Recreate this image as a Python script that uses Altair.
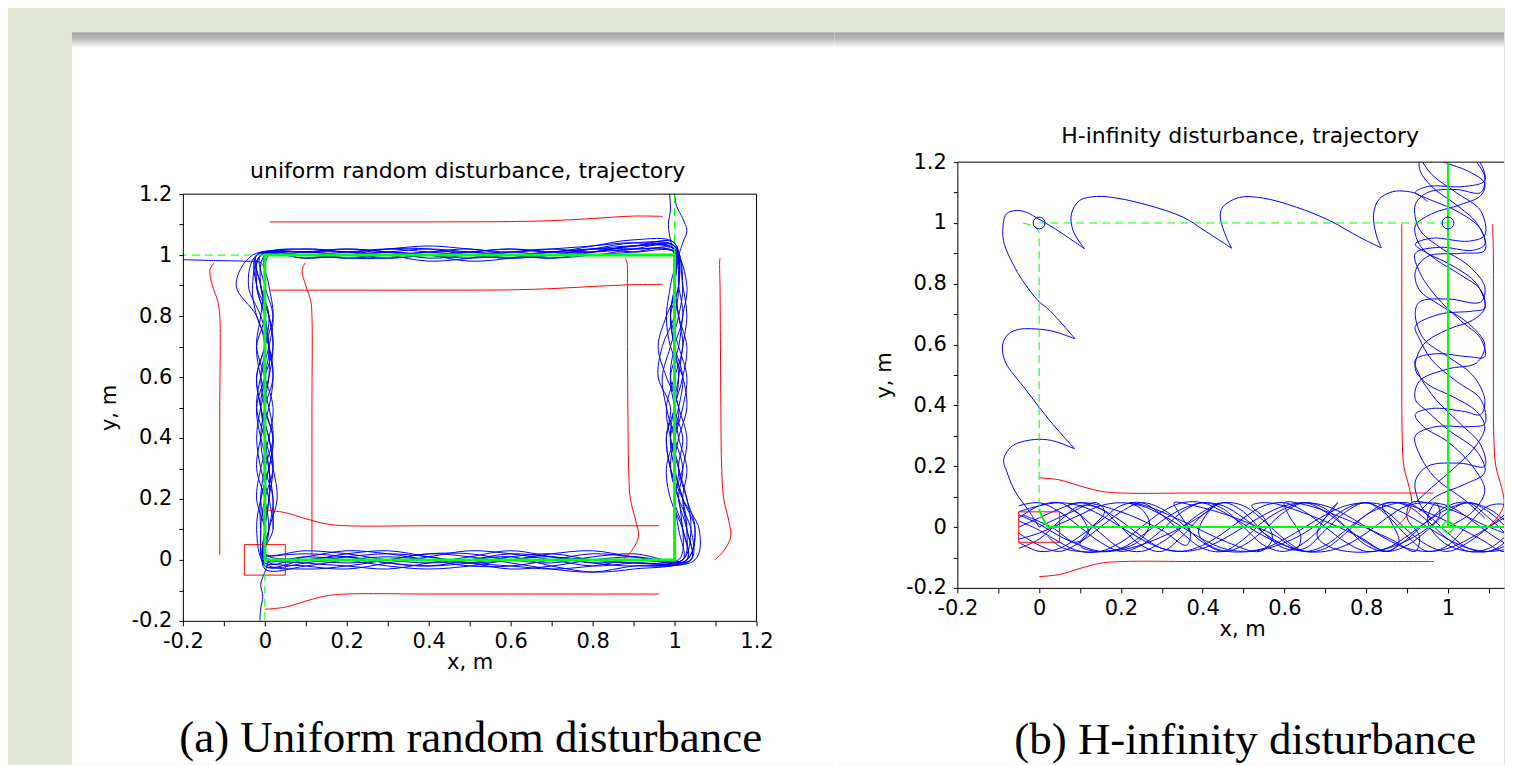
import altair as alt
import pandas as pd

# ---------------- text ----------------
TITLE_A = "uniform random disturbance, trajectory"
TITLE_B = "H-infinity disturbance, trajectory"
CAPTION_A = "(a) Uniform random disturbance"
CAPTION_B = "(b) H-infinity disturbance"
X_TITLE = "x, m"
Y_TITLE = "y, m"

# ---------------- axes ----------------
TICKS = [-0.2, -0.1, 0.0, 0.1, 0.2, 0.3, 0.4, 0.5, 0.6, 0.7, 0.8, 0.9, 1.0, 1.1, 1.2]
TICKS_BX = [-0.2, -0.1, 0.0, 0.1, 0.2, 0.3, 0.4, 0.5, 0.6, 0.7, 0.8, 0.9, 1.0, 1.1]
DOMAIN_A = [-0.2, 1.2]
DOMAIN_BX = [-0.2, 1.137]
DOMAIN_BY = [-0.2, 1.2]

# ---------------- panel (a): uniform random disturbance ----------------
LAP_S = [0.0, 0.1, 0.2, 0.3, 0.4, 0.5, 0.6, 0.7, 0.8, 0.9]
LAP_BOTTOM = [
    [0.01, 0.02, 0.01, -0.01, -0.02, -0.01, 0.01, 0.02, 0.00, -0.01],
    [-0.02, -0.01, 0.01, 0.02, 0.01, -0.01, -0.03, -0.02, 0.00, 0.01],
    [0.00, -0.02, -0.03, -0.01, 0.01, 0.03, 0.02, 0.00, -0.02, -0.01],
    [0.02, 0.00, -0.01, 0.00, 0.02, 0.01, -0.01, -0.03, -0.04, -0.02],
    [-0.01, 0.01, 0.03, 0.02, 0.00, -0.02, -0.02, 0.00, 0.02, 0.01],
    [0.01, -0.01, -0.02, -0.03, -0.01, 0.01, 0.03, 0.01, -0.01, 0.00],
    [-0.03, -0.02, 0.00, 0.01, 0.00, -0.01, 0.00, 0.02, 0.03, 0.01],
    [0.00, 0.01, 0.00, -0.02, -0.03, -0.02, 0.00, 0.01, -0.01, -0.02],
    [0.02, 0.03, 0.02, 0.00, -0.01, 0.00, 0.01, -0.02, -0.04, -0.03],
    [-0.01, -0.03, -0.02, 0.00, 0.02, 0.02, 0.00, -0.01, 0.01, 0.02],
    [0.01, 0.00, 0.02, 0.03, 0.01, -0.01, -0.02, -0.03, -0.02, 0.00],
    [-0.02, 0.00, 0.01, -0.01, -0.02, 0.00, 0.02, 0.01, 0.00, -0.01],
]
LAP_RIGHT = [
    [0.03, 0.05, 0.02, 0.00, -0.01, 0.01, 0.02, 0.00, -0.01, 0.01],
    [0.04, 0.03, 0.01, 0.02, 0.00, -0.02, -0.03, -0.01, 0.01, 0.02],
    [0.02, 0.04, 0.03, 0.01, -0.01, 0.00, 0.02, 0.03, 0.01, 0.00],
    [0.05, 0.06, 0.02, -0.01, -0.02, -0.01, -0.04, -0.03, 0.00, 0.01],
    [0.01, 0.02, 0.00, 0.02, 0.03, 0.01, -0.01, 0.00, 0.02, 0.01],
    [0.03, 0.02, -0.01, -0.02, 0.00, 0.02, 0.03, 0.01, -0.01, 0.00],
    [0.02, 0.03, 0.02, 0.00, 0.01, 0.03, 0.02, -0.01, -0.02, -0.01],
    [0.04, 0.04, 0.01, -0.01, 0.00, 0.01, -0.02, -0.04, -0.02, 0.01],
    [0.03, 0.05, 0.03, 0.01, 0.02, 0.00, 0.01, 0.02, 0.03, 0.02],
    [0.02, 0.01, 0.00, 0.01, -0.01, -0.02, 0.00, 0.02, 0.01, 0.00],
    [0.04, 0.03, 0.02, 0.03, 0.01, 0.00, -0.01, 0.01, 0.02, 0.03],
    [0.03, 0.02, 0.01, -0.01, -0.02, 0.00, 0.01, 0.00, -0.01, 0.00],
]
LAP_TOP = [
    [0.02, 0.03, 0.02, 0.01, 0.00, 0.01, 0.02, 0.01, 0.00, 0.01],
    [0.03, 0.04, 0.02, 0.00, -0.01, 0.00, 0.01, 0.02, 0.01, 0.00],
    [0.01, 0.02, 0.01, 0.02, 0.01, -0.01, -0.02, 0.00, 0.01, 0.02],
    [0.04, 0.05, 0.03, 0.01, 0.02, 0.01, 0.00, -0.01, 0.00, 0.01],
    [0.02, 0.01, 0.00, -0.01, 0.00, 0.02, 0.01, 0.00, -0.01, 0.00],
    [0.03, 0.03, 0.01, 0.00, 0.01, 0.00, -0.01, 0.01, 0.02, 0.01],
    [0.01, 0.02, 0.02, 0.01, -0.01, -0.02, 0.00, 0.01, 0.00, -0.01],
    [0.02, 0.04, 0.03, 0.02, 0.01, 0.02, 0.03, 0.02, 0.01, 0.02],
    [0.03, 0.02, 0.00, 0.01, 0.02, 0.01, 0.00, -0.01, -0.01, 0.00],
    [0.02, 0.03, 0.01, -0.01, 0.00, 0.01, 0.01, 0.00, 0.01, 0.01],
    [0.01, 0.01, 0.02, 0.00, -0.01, 0.00, 0.02, 0.02, 0.00, -0.01],
    [0.04, 0.03, 0.01, 0.01, 0.00, -0.01, 0.00, 0.01, 0.02, 0.01],
]
LAP_LEFT = [
    [-0.01, -0.02, 0.00, 0.01, 0.02, 0.01, -0.01, -0.02, 0.00, 0.01],
    [-0.02, -0.04, -0.01, 0.01, 0.00, -0.01, 0.01, 0.02, 0.01, 0.00],
    [0.00, -0.01, 0.01, 0.02, 0.01, -0.01, -0.02, -0.01, 0.01, 0.02],
    [-0.03, -0.07, -0.02, 0.00, -0.01, 0.00, 0.02, 0.01, -0.01, -0.02],
    [-0.01, 0.00, 0.02, 0.01, -0.01, -0.02, 0.00, 0.02, 0.03, 0.01],
    [-0.02, -0.01, 0.00, -0.02, -0.01, 0.01, 0.02, 0.00, -0.01, 0.00],
    [0.00, 0.01, 0.02, 0.00, -0.02, -0.01, 0.01, 0.02, 0.00, -0.01],
    [-0.01, -0.03, -0.02, 0.01, 0.02, 0.00, -0.01, 0.00, 0.02, 0.01],
    [-0.02, -0.02, 0.01, 0.02, 0.00, -0.02, -0.01, 0.01, 0.01, 0.00],
    [0.01, 0.00, -0.01, -0.02, 0.00, 0.02, 0.01, -0.01, -0.02, 0.00],
    [-0.01, -0.02, 0.00, 0.01, 0.01, 0.00, 0.02, 0.01, -0.01, -0.01],
    [-0.02, -0.01, 0.01, 0.00, -0.02, -0.01, 0.00, 0.01, 0.02, 0.02],
]
TAIL_A_X = [-0.2, -0.12, -0.05, -0.01, 0.0]
TAIL_A_Y = [0.985, 0.982, 0.98, 0.975, 0.95]
TAIL_B_X = [0.01, 0.0, -0.01, -0.005, -0.01, -0.012]
TAIL_B_Y = [0.0, -0.04, -0.08, -0.12, -0.16, -0.2]
TAIL_C_X = [1.0, 0.99, 0.985, 0.99, 0.988]
TAIL_C_Y = [1.0, 1.05, 1.1, 1.15, 1.2]
TAIL_D_X = [1.01, 1.02, 1.03, 1.02, 1.005, 1.0]
TAIL_D_Y = [1.0, 1.04, 1.08, 1.12, 1.16, 1.2]

REF_SQ_X = [0.0, 1.0, 1.0, 0.0, 0.0]
REF_SQ_Y = [0.0, 0.0, 1.0, 1.0, 0.0]
REF_DASH_A = [([0.0, 0.0], [0.0, -0.2]), ([0.0, -0.2], [1.0, 1.0]), ([1.0, 1.0], [1.0, 1.2])]

RED_BOT_X = [0.0, 0.05, 0.1, 0.15, 0.2, 0.4, 0.6, 0.8, 0.963]
RED_BOT_IN_Y = [0.164, 0.155, 0.135, 0.118, 0.112, 0.112, 0.112, 0.112, 0.112]
RED_BOT_OUT_Y = [-0.162, -0.155, -0.135, -0.118, -0.112, -0.112, -0.112, -0.112, -0.112]
RED_RIGHT_Y = [0.0, 0.03, 0.076, 0.13, 0.2, 0.3, 0.5, 0.7, 0.9, 0.975, 0.99]
RED_RIGHT_IN_X = [0.874, 0.895, 0.912, 0.905, 0.892, 0.888, 0.886, 0.885, 0.885, 0.884, 0.880]
RED_RIGHT_OUT_X = [1.098, 1.12, 1.137, 1.132, 1.12, 1.115, 1.113, 1.112, 1.111, 1.11, 1.111]
RED_TOP_X = [0.012, 0.2, 0.4, 0.6, 0.7, 0.8, 0.9, 0.971]
RED_TOP_OUT_Y = [1.109, 1.109, 1.109, 1.11, 1.113, 1.12, 1.128, 1.127]
RED_TOP_IN_Y = [0.885, 0.885, 0.885, 0.886, 0.89, 0.897, 0.903, 0.904]
RED_LEFT_Y = [0.975, 0.95, 0.9, 0.85, 0.8, 0.5, 0.2, 0.016]
RED_LEFT_OUT_X = [-0.124, -0.134, -0.128, -0.115, -0.11, -0.11, -0.11, -0.11]
RED_LEFT_IN_X = [0.099, 0.091, 0.1, 0.112, 0.115, 0.115, 0.115, 0.115]
BOX = [-0.05, 0.05]

# ---------------- panel (b): H-infinity disturbance ----------------
BIG_SEGMENTS = [
    ([0.0, -0.023, -0.06, -0.080, -0.087, -0.075, -0.056, -0.011, 0.03, 0.06, 0.087],
     [0.0, 0.049, 0.12, 0.186, 0.219, 0.255, 0.274, 0.288, 0.285, 0.272, 0.257]),
    ([0.087, 0.026, -0.031, -0.084, -0.089, -0.075, -0.050, -0.019, 0.03, 0.088],
     [0.257, 0.350, 0.449, 0.547, 0.602, 0.635, 0.650, 0.652, 0.645, 0.619]),
    ([0.088, 0.026, -0.003, -0.040, -0.064, -0.085, -0.089, -0.080, -0.056, -0.031, 0.0, 0.04, 0.111],
     [0.619, 0.712, 0.745, 0.810, 0.865, 0.93, 0.975, 1.030, 1.041, 1.035, 1.012, 0.98, 0.915]),
    ([0.111, 0.083, 0.079, 0.099, 0.140, 0.189, 0.270, 0.352, 0.41, 0.471],
     [0.915, 0.975, 1.03, 1.074, 1.087, 1.082, 1.057, 1.019, 0.97, 0.917]),
    ([0.471, 0.458, 0.443, 0.449, 0.490, 0.547, 0.629, 0.710, 0.784, 0.837],
     [0.917, 0.953, 1.019, 1.052, 1.084, 1.082, 1.052, 1.008, 0.953, 0.918]),
    ([0.837, 0.824, 0.818, 0.832, 0.865, 0.898, 0.925, 0.95],
     [0.918, 0.964, 1.030, 1.079, 1.103, 1.104, 1.095, 1.07]),
]
BAND_X = [-0.05, 0.0, 0.05, 0.1, 0.15, 0.2, 0.25, 0.3, 0.35, 0.4, 0.45, 0.5, 0.55, 0.6,
          0.65, 0.7, 0.75, 0.8, 0.85, 0.9, 0.95, 1.0, 1.05, 1.1, 1.15, 1.2, 1.25]
BAND_Y = [
    [0.0, 0.03, 0.06, 0.08, 0.06, 0.02, -0.03, -0.07, -0.08, -0.06, -0.02, 0.03, 0.07, 0.08,
     0.05, 0.0, -0.05, -0.08, -0.07, -0.03, 0.02, 0.06, 0.08, 0.06, 0.01, -0.04, -0.07],
    [-0.02, -0.06, -0.08, -0.05, 0.0, 0.05, 0.08, 0.06, 0.01, -0.05, -0.08, -0.06, -0.01, 0.05,
     0.08, 0.06, 0.0, -0.06, -0.08, -0.04, 0.02, 0.07, 0.08, 0.03, -0.03, -0.07, -0.08],
    [0.05, 0.07, 0.08, 0.07, 0.04, 0.0, -0.04, -0.07, -0.08, -0.07, -0.04, 0.0, 0.04, 0.07,
     0.08, 0.07, 0.04, 0.0, -0.04, -0.07, -0.08, -0.07, -0.04, 0.0, 0.04, 0.07, 0.08],
    [-0.07, -0.04, 0.02, 0.07, 0.06, 0.0, -0.06, -0.08, -0.03, 0.04, 0.08, 0.05, -0.02, -0.07,
     -0.07, -0.01, 0.05, 0.08, 0.04, -0.03, -0.08, -0.06, 0.01, 0.07, 0.07, 0.01, -0.05],
    [0.02, -0.01, -0.05, -0.08, -0.08, -0.05, 0.0, 0.05, 0.08, 0.08, 0.05, 0.01, -0.03, -0.06,
     -0.08, -0.08, -0.06, -0.02, 0.03, 0.07, 0.08, 0.07, 0.03, -0.02, -0.06, -0.08, -0.07],
    [0.07, 0.08, 0.05, 0.0, -0.05, -0.08, -0.06, -0.01, 0.05, 0.08, 0.06, 0.0, -0.06, -0.08,
     -0.05, 0.01, 0.06, 0.08, 0.05, -0.01, -0.06, -0.08, -0.05, 0.0, 0.05, 0.08, 0.06],
    [0.04, 0.01, -0.03, -0.06, -0.08, -0.07, -0.03, 0.02, 0.06, 0.08, 0.07, 0.03, -0.02, -0.06,
     -0.08, -0.06, -0.01, 0.04, 0.08, 0.07, 0.02, -0.04, -0.08, -0.07, -0.02, 0.04, 0.08],
    [-0.05, -0.08, -0.07, -0.03, 0.02, 0.07, 0.08, 0.04, -0.02, -0.07, -0.08, -0.04, 0.02, 0.06,
     0.08, 0.05, 0.0, -0.05, -0.08, -0.06, -0.01, 0.05, 0.08, 0.05, -0.01, -0.06, -0.08],
    [0.03, 0.07, 0.08, 0.04, -0.02, -0.07, -0.08, -0.05, 0.0, 0.05, 0.08, 0.07, 0.02, -0.04,
     -0.08, -0.07, -0.02, 0.04, 0.07, 0.08, 0.04, -0.02, -0.07, -0.08, -0.04, 0.02, 0.07],
    [-0.04, -0.02, 0.01, 0.04, 0.07, 0.08, 0.07, 0.04, 0.0, -0.04, -0.07, -0.08, -0.07, -0.04,
     0.0, 0.04, 0.07, 0.08, 0.07, 0.04, 0.0, -0.04, -0.07, -0.08, -0.07, -0.04, 0.0],
]
LOOP_STRANDS = [
    ([0.0, 0.08, 0.14, 0.16, 0.13, 0.10, 0.14, 0.22, 0.32, 0.40, 0.44, 0.42, 0.39, 0.43, 0.52,
      0.62, 0.70, 0.73, 0.71, 0.68, 0.72, 0.82, 0.92, 0.98, 0.97, 0.95, 1.0, 1.1, 1.2],
     [0.0, 0.05, 0.08, 0.05, 0.0, -0.06, -0.08, -0.07, -0.02, 0.04, 0.08, 0.06, -0.02, -0.07, -0.08,
      -0.04, 0.03, 0.08, 0.05, -0.03, -0.07, -0.08, -0.03, 0.04, 0.08, 0.02, -0.06, -0.08, -0.02]),
    ([0.02, 0.06, 0.16, 0.24, 0.27, 0.25, 0.22, 0.26, 0.35, 0.46, 0.54, 0.57, 0.55, 0.52, 0.56,
      0.66, 0.78, 0.85, 0.88, 0.86, 0.84, 0.88, 0.98, 1.08, 1.14, 1.16, 1.14, 1.2],
     [-0.03, -0.07, -0.08, -0.05, 0.01, 0.06, 0.08, 0.07, 0.02, -0.05, -0.08, -0.04, 0.03, 0.07, 0.08,
      0.04, -0.03, -0.08, -0.05, 0.02, 0.07, 0.08, 0.03, -0.04, -0.08, -0.02, 0.05, 0.07]),
    ([-0.04, 0.03, 0.09, 0.12, 0.10, 0.07, 0.11, 0.2, 0.3, 0.36, 0.37, 0.34, 0.33, 0.38, 0.48,
      0.58, 0.63, 0.64, 0.61, 0.60, 0.66, 0.76, 0.86, 0.92, 0.93, 0.90, 0.91, 1.0, 1.1, 1.2],
     [0.04, 0.0, -0.05, -0.02, 0.04, 0.07, 0.08, 0.05, -0.01, -0.06, -0.02, 0.05, 0.08, 0.07, 0.03,
      -0.03, -0.07, -0.03, 0.04, 0.08, 0.07, 0.02, -0.04, -0.08, -0.03, 0.03, 0.08, 0.06, 0.0, -0.05]),
]
RIGHT_STRANDS = [
    ([1.0, 1.06, 1.09, 1.06, 1.0, 0.94, 0.92, 0.96, 1.04, 1.08, 1.09, 1.06, 1.0, 0.94, 0.92,
      0.93, 1.0, 1.08, 1.09, 1.05, 0.98, 0.93, 0.92, 0.95, 1.02, 1.08, 1.09, 1.06, 1.04],
     [0.0, 0.05, 0.12, 0.2, 0.28, 0.33, 0.37, 0.39, 0.38, 0.37, 0.42, 0.5, 0.56, 0.62, 0.70,
      0.74, 0.75, 0.74, 0.79, 0.86, 0.92, 0.98, 1.06, 1.10, 1.11, 1.10, 1.15, 1.22, 1.26]),
    ([0.96, 0.93, 0.92, 0.95, 1.03, 1.09, 1.08, 1.03, 0.97, 0.93, 0.92, 0.97, 1.05, 1.09, 1.08,
      1.03, 0.97, 0.93, 0.92, 0.98, 1.06, 1.09, 1.07, 1.02, 0.96, 0.93, 0.94],
     [0.02, 0.08, 0.15, 0.2, 0.21, 0.2, 0.27, 0.34, 0.42, 0.5, 0.55, 0.57, 0.56, 0.56, 0.62,
      0.68, 0.76, 0.84, 0.9, 0.92, 0.91, 0.93, 1.0, 1.06, 1.12, 1.18, 1.26]),
    ([1.09, 1.04, 0.97, 0.93, 0.92, 0.97, 1.05, 1.09, 1.08, 1.02, 0.96, 0.93, 0.92, 0.98, 1.06,
      1.09, 1.07, 1.01, 0.95, 0.92, 0.96, 1.05, 1.09, 1.08, 1.02, 0.96, 0.93, 0.92],
     [0.03, 0.09, 0.16, 0.24, 0.3, 0.33, 0.33, 0.34, 0.42, 0.48, 0.55, 0.62, 0.66, 0.70, 0.71,
      0.72, 0.8, 0.86, 0.9, 0.93, 0.95, 0.94, 0.96, 1.04, 1.10, 1.16, 1.22, 1.26]),
    ([0.93, 0.97, 1.04, 1.09, 1.07, 1.0, 0.95, 0.92, 0.93, 1.0, 1.07, 1.09, 1.05, 0.98, 0.93,
      0.92, 0.95, 1.03, 1.09, 1.08, 1.02, 0.95, 0.92, 0.95, 1.04, 1.09, 1.07, 1.04],
     [0.05, 0.1, 0.14, 0.18, 0.25, 0.32, 0.38, 0.42, 0.48, 0.52, 0.54, 0.6, 0.67, 0.73, 0.78,
      0.84, 0.89, 0.9, 0.91, 0.98, 1.04, 1.08, 1.10, 1.12, 1.12, 1.14, 1.22, 1.26]),
    ([0.92, 0.96, 1.02, 1.07, 1.09, 1.07, 1.01, 0.95, 0.92, 0.94, 1.0, 1.06, 1.09, 1.08, 1.03,
      0.97, 0.93, 0.92, 0.96, 1.03, 1.08, 1.09, 1.05, 0.99, 0.94, 0.92],
     [0.08, 0.13, 0.2, 0.27, 0.33, 0.38, 0.43, 0.47, 0.52, 0.6, 0.65, 0.68, 0.72, 0.78, 0.83,
      0.88, 0.93, 0.99, 1.03, 1.06, 1.09, 1.13, 1.17, 1.2, 1.23, 1.26]),
]
B_RED_BOT_X = [0.0, 0.05, 0.1, 0.15, 0.2, 0.4, 0.6, 0.8, 0.965]
B_RED_BOT_IN_Y = [0.162, 0.155, 0.135, 0.118, 0.112, 0.112, 0.112, 0.112, 0.112]
B_RED_BOT_OUT_Y = [-0.163, -0.156, -0.136, -0.119, -0.1135, -0.1135, -0.1135, -0.1135, -0.1135]
B_RED_RIGHT_Y = [0.0, 0.03, 0.076, 0.13, 0.2, 0.3, 0.5, 0.7, 0.9, 0.997]
B_RED_RIGHT_IN_X = [0.873, 0.895, 0.911, 0.905, 0.892, 0.888, 0.887, 0.887, 0.887, 0.887]
B_RED_RIGHT_OUT_X = [1.097, 1.12, 1.137, 1.131, 1.117, 1.112, 1.111, 1.111, 1.111, 1.109]
B_GREEN_SOLID = [([0.02, 1.2], [0.0, 0.0]), ([1.0, 1.0], [0.0, 1.2]),
                 ([0.0, 0.008, 0.02], [0.06, 0.03, 0.0])]
B_GREEN_DASH = [([1.0, 0.0], [1.0, 1.0]), ([-0.04, -0.01, 0.0, 0.0], [1.0, 0.99, 0.97, 0.06])]
B_BLUE_RINGS_X = [0.0, 1.0]
B_BLUE_RINGS_Y = [1.0, 1.0]
B_GREEN_RING_X = [1.0]
B_GREEN_RING_Y = [0.0]

# ---------------- colours ----------------
BLUE = "#0000ff"
RED = "#ff0000"
GREEN = "#00ff00"
PAGE_BG = "#dfe4d6"
FONT = "DejaVu Sans"
SERIF = "Liberation Serif"
LABEL_EXPR = "(round(datum.value*10) % 2 == 0) ? toString(round(datum.value*10)/10) : ''"
GAP = 2  # the two panels' page backgrounds overlap by this many pixels


def paths_df(paths):
    rows = []
    for pid, (xs, ys) in enumerate(paths):
        for i, (x, y) in enumerate(zip(xs, ys)):
            rows.append({"x": x, "y": y, "pid": pid, "i": i})
    return pd.DataFrame(rows)


def lap_path():
    xs, ys = [], []
    for k in range(len(LAP_BOTTOM)):
        for s, o in zip(LAP_S, LAP_BOTTOM[k]):
            xs.append(s); ys.append(o)
        for s, o in zip(LAP_S, LAP_RIGHT[k]):
            xs.append(1.0 + o); ys.append(s)
        for s, o in zip(LAP_S, LAP_TOP[k]):
            xs.append(1.0 - s); ys.append(1.0 + o)
        for s, o in zip(LAP_S, LAP_LEFT[k]):
            xs.append(o); ys.append(1.0 - s)
    return xs, ys


def axes(xdom, xticks, ydom, title_x, yrange=None):
    xa = alt.Axis(values=xticks, labelExpr=LABEL_EXPR, title=X_TITLE, grid=False, zindex=1,
                  tickSize=5, tickColor="black", domainColor="black", labelColor="black",
                  labelFont=FONT, labelFontSize=21, labelPadding=5, labelFlush=False,
                  labelOverlap=False, titleFont=FONT, titleFontSize=21, titleFontWeight="normal",
                  titleColor="black", titlePadding=0, titleX=title_x)
    ya = alt.Axis(values=TICKS, labelExpr=LABEL_EXPR, title=Y_TITLE, grid=False, zindex=1,
                  tickSize=4, tickColor="black", domainColor="black", labelColor="black",
                  labelFont=FONT, labelFontSize=21, labelPadding=7, labelFlush=False,
                  labelOverlap=False, titleFont=FONT, titleFontSize=21, titleFontWeight="normal",
                  titleColor="black", titlePadding=11)
    xs = alt.Scale(domain=xdom, nice=False, zero=False)
    if yrange is None:
        ys = alt.Scale(domain=ydom, nice=False, zero=False)
    else:
        ys = alt.Scale(domain=ydom, nice=False, zero=False, range=yrange)
    return (lambda: alt.X("x:Q", scale=xs, axis=xa)), (lambda: alt.Y("y:Q", scale=ys, axis=ya))


def line_layer(df, X, Y, color, width, dash=None, interp="catmull-rom"):
    kw = dict(color=color, strokeWidth=width, interpolate=interp, clip=True)
    if dash:
        kw["strokeDash"] = dash
    return alt.Chart(df).mark_line(**kw).encode(x=X(), y=Y(), detail="pid:N", order="i:Q")


ONE = pd.DataFrame({"k": [0]})


def deco_rect(x, x2, y, y2, color):
    return alt.Chart(ONE).mark_rect(color=color).encode(
        x=alt.value(x), x2=alt.value(x2), y=alt.value(y), y2=alt.value(y2))


def shadow(x, x2, y):
    grad = alt.Gradient(gradient="linear", x1=0, x2=0, y1=0, y2=1,
                        stops=[alt.GradientStop(color="#a6a6a6", offset=0),
                               alt.GradientStop(color="#b4b4b4", offset=0.35),
                               alt.GradientStop(color="#ffffff", offset=1)])
    return alt.Chart(ONE).mark_rect(color=grad).encode(
        x=alt.value(x), x2=alt.value(x2), y=alt.value(y), y2=alt.value(y + 16))


def rule(x, x2, y, y2):
    enc = dict(x=alt.value(x), y=alt.value(y))
    if x2 is not None:
        enc["x2"] = alt.value(x2)
    if y2 is not None:
        enc["y2"] = alt.value(y2)
    return alt.Chart(ONE).mark_rule(color="black", strokeWidth=1).encode(**enc)


def label_text(text, x, y, font, size):
    return alt.Chart(ONE).mark_text(text=text, font=font, fontSize=size, color="black",
                                    align="center", baseline="alphabetic").encode(
        x=alt.value(x), y=alt.value(y))


def red_box(X, Y):
    df = pd.DataFrame({"x": [BOX[0]], "x2": [BOX[1]], "y": [BOX[0]], "y2": [BOX[1]]})
    return alt.Chart(df).mark_rect(fill=None, stroke=RED, strokeWidth=1, clip=True).encode(
        x=X(), x2="x2:Q", y=Y(), y2="y2:Q")


# ---------------- panel (a) ----------------
# the view starts 32 px above the plot frame so that both panels share a top edge
WA, HA, TOP_A = 574, 459, 32
RIGHT_A = 652 + GAP
XA, YA = axes(DOMAIN_A, TICKS, DOMAIN_A, WA / 2, yrange=[HA, TOP_A])

blue_a = paths_df([lap_path(), (TAIL_A_X, TAIL_A_Y), (TAIL_B_X, TAIL_B_Y),
                   (TAIL_C_X, TAIL_C_Y), (TAIL_D_X, TAIL_D_Y)])
red_a = paths_df([(RED_BOT_X, RED_BOT_IN_Y), (RED_BOT_X, RED_BOT_OUT_Y),
                  (RED_RIGHT_IN_X, RED_RIGHT_Y), (RED_RIGHT_OUT_X, RED_RIGHT_Y),
                  (RED_TOP_X, RED_TOP_OUT_Y), (RED_TOP_X, RED_TOP_IN_Y),
                  (RED_LEFT_OUT_X, RED_LEFT_Y), (RED_LEFT_IN_X, RED_LEFT_Y)])
green_a = paths_df([(REF_SQ_X, REF_SQ_Y)])
green_dash_a = paths_df(REF_DASH_A)

panel_a = alt.layer(
    deco_rect(-175, RIGHT_A, -154, 603, PAGE_BG),
    deco_rect(-111, RIGHT_A, -130, 603, "#ffffff"),
    shadow(-111, RIGHT_A, -130),
    line_layer(blue_a, XA, YA, BLUE, 1),
    line_layer(red_a, XA, YA, RED, 1),
    red_box(XA, YA),
    line_layer(green_dash_a, XA, YA, GREEN, 1, dash=[8, 5], interp="linear"),
    line_layer(green_a, XA, YA, GREEN, 3, interp="linear"),
    rule(0, WA, TOP_A, None),
    rule(WA, None, TOP_A, HA),
    label_text(TITLE_A, 285, TOP_A - 16, FONT, 22),
    label_text(CAPTION_A, 288, 590, SERIF, 45),
).properties(width=WA, height=HA)

# ---------------- panel (b) ----------------
WB, HB = 547, 426
XB, YB = axes(DOMAIN_BX, TICKS_BX, DOMAIN_BY, 285)

band = [(BAND_X, ys) for ys in BAND_Y]
blue_b = paths_df(BIG_SEGMENTS + band + LOOP_STRANDS + RIGHT_STRANDS)
red_b = paths_df([(B_RED_BOT_X, B_RED_BOT_IN_Y), (B_RED_BOT_X, B_RED_BOT_OUT_Y),
                  (B_RED_RIGHT_IN_X, B_RED_RIGHT_Y), (B_RED_RIGHT_OUT_X, B_RED_RIGHT_Y)])
green_b = paths_df(B_GREEN_SOLID)
green_dash_b = paths_df(B_GREEN_DASH)
rings_blue = pd.DataFrame({"x": B_BLUE_RINGS_X, "y": B_BLUE_RINGS_Y})
rings_green = pd.DataFrame({"x": B_GREEN_RING_X, "y": B_GREEN_RING_Y})

panel_b = alt.layer(
    deco_rect(-123, 547, -154, -129, PAGE_BG),
    deco_rect(-123, 547, -130, 603, "#ffffff"),
    shadow(-123, 547, -130),
    line_layer(blue_b, XB, YB, BLUE, 1),
    line_layer(red_b, XB, YB, RED, 1),
    red_box(XB, YB),
    line_layer(green_dash_b, XB, YB, GREEN, 1, dash=[8, 5], interp="linear"),
    line_layer(green_b, XB, YB, GREEN, 2, interp="linear"),
    alt.Chart(rings_blue).mark_point(shape="circle", filled=False, size=140, color=BLUE,
                                     strokeWidth=1, opacity=1, clip=True).encode(x=XB(), y=YB()),
    alt.Chart(rings_green).mark_point(shape="circle", filled=False, size=120, color=GREEN,
                                      strokeWidth=1.5, opacity=1, clip=True).encode(x=XB(), y=YB()),
    rule(0, WB, 0, None),
    label_text(TITLE_B, 283, -19, FONT, 22),
    label_text(CAPTION_B, 288, 592, SERIF, 45),
).properties(width=WB, height=HB)

chart = alt.hconcat(panel_a, panel_b, spacing=-GAP).configure(
    background=PAGE_BG, padding=0).configure_view(strokeWidth=0)

chart.save("out.html", embed_options={"renderer": "svg", "actions": False})
